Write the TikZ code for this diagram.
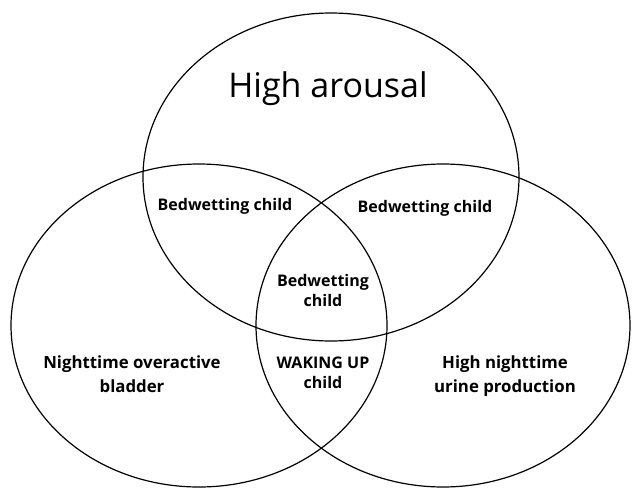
\documentclass[tikz,border=0pt]{standalone}
\usepackage{fontspec}
\setmainfont{Open Sans}
\begin{document}
\begin{tikzpicture}[x=1pt,y=-1pt,
        set/.style={line width=1.2pt},
        lbl/.style={font=\bfseries\fontsize{16}{20}\selectfont,align=center,inner sep=0pt},
        side/.style={lbl,font=\bfseries\fontsize{16.8}{24}\selectfont}]
        \useasboundingbox (0,0) rectangle (632,490);
        \draw[set] (331,177) ellipse [x radius=188,y radius=164];
        \draw[set] (199,325.5) ellipse [x radius=188,y radius=161.5];
        \draw[set] (443,325.5) ellipse [x radius=187,y radius=161.5];
        \node[inner sep=0pt,font=\fontsize{34}{40}\selectfont] (arousal) at (328,89) {High arousal};
        \node[lbl] (bwleft) at (225,206) {Bedwetting child};
        \node[lbl] (bwright) at (425,208) {Bedwetting child};
        \node[lbl] (bwmid) at (323,290) {Bedwetting\\child};
        \node[lbl] (waking) at (323,373) {WAKING UP\\child};
        \node[side] (bladder) at (132,374) {Nighttime overactive\\bladder};
        \node[side] (urine) at (505,376) {High nighttime\\urine production};
    \end{tikzpicture}
\end{document}
